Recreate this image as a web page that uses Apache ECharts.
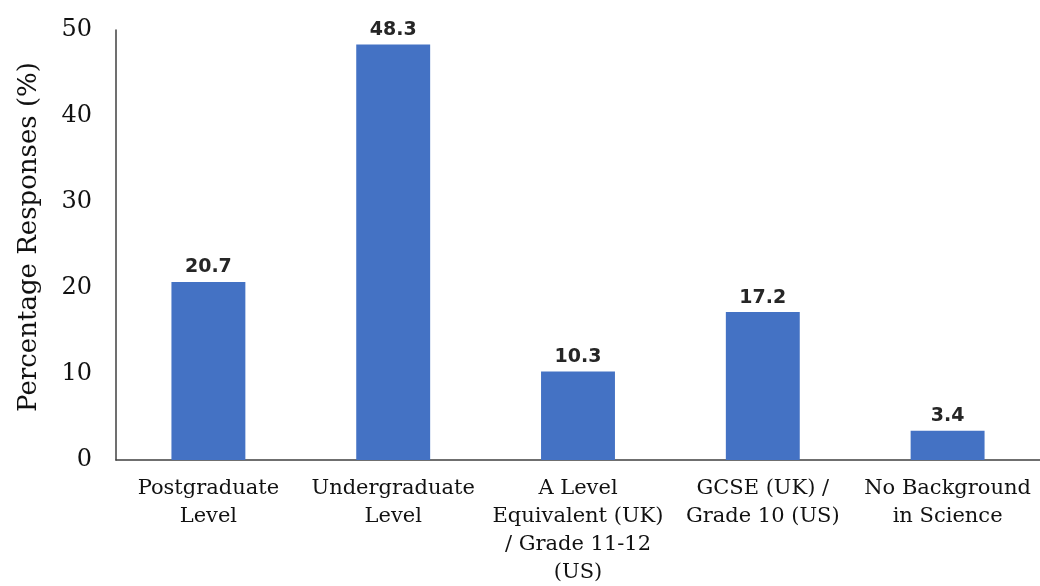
<!DOCTYPE html>
<html><head><meta charset="utf-8">
<script src="https://cdn.jsdelivr.net/npm/echarts@6/dist/echarts.min.js"></script>
<style>html,body{margin:0;padding:0;background:#fff}#c{width:1040px;height:586px}</style>
</head><body><div id="c"></div>
<script>
const categories = ["Postgraduate\nLevel", "Undergraduate\nLevel", "A Level\nEquivalent (UK)\n/ Grade 11-12\n(US)", "GCSE (UK) /\nGrade 10 (US)", "No Background\nin Science"];
const values = [20.7, 48.3, 10.3, 17.2, 3.4];
const yTicks = [0, 10, 20, 30, 40, 50];
const serif = "'DejaVu Serif', 'Liberation Serif', serif";
const chart = echarts.init(document.getElementById('c'));
chart.setOption({
  animation: false,
  grid: {left: 116, right: 0, top: 30, bottom: 126, containLabel: false, outerBoundsMode: 'none'},
  xAxis: {
    type: 'category', data: categories,
    axisLine: {lineStyle: {color: '#404040', width: 1.5}},
    axisTick: {show: false},
    axisLabel: {fontFamily: serif, fontSize: 21, color: '#111', lineHeight: 28, margin: 15, interval: 0}
  },
  yAxis: {
    type: 'value', min: yTicks[0], max: yTicks[yTicks.length-1], interval: 10,
    name: 'Percentage Responses (%)', nameLocation: 'middle', nameGap: 74,
    nameTextStyle: {fontFamily: serif, fontSize: 26, color: '#111', padding: [0, 0, 0, 16]},
    axisLine: {show: true, lineStyle: {color: '#404040', width: 1.5}},
    axisTick: {show: false},
    splitLine: {show: false},
    axisLabel: {fontFamily: serif, fontSize: 24, color: '#111', margin: 24}
  },
  series: [{
    type: 'bar', data: values, barWidth: '40%',
    itemStyle: {color: '#4472C4'},
    label: {show: true, position: 'top', distance: 5, fontFamily: "'DejaVu Sans', Verdana, sans-serif", fontWeight: 'bold', fontSize: 19, color: '#262626', formatter: p => p.value.toFixed(1)}
  }]
});
</script></body></html>
